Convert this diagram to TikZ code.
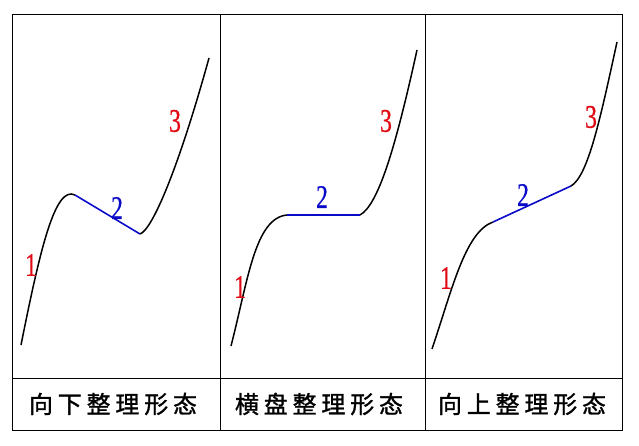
\documentclass[tikz,border=0pt]{standalone}
\usepackage{fontspec}
\usepackage{graphicx}
\setmainfont{Liberation Serif}
\newfontfamily\digfont[FakeBold=0.6]{Liberation Serif}
\newfontfamily\cjk[FakeBold=1.2]{Noto Sans CJK SC}
\definecolor{lblred}{RGB}{225,10,20}
\definecolor{lblblue}{RGB}{10,10,200}
\newcommand{\dig}[1]{\scalebox{0.72}[1]{#1}}
\newcommand{\cjksp}{\hspace{4.8pt}}
\begin{document}
\begin{tikzpicture}[x=1pt,y=-1pt,
  grid/.style={draw=black,line width=1pt},
  curve/.style={draw=black,line width=1.5pt},
  flat/.style={draw=lblblue,line width=1.6pt},
  redlbl/.style={text=lblred,inner sep=0pt,font=\digfont\fontsize{33}{33}\selectfont},
  bluelbl/.style={text=lblblue,inner sep=0pt,font=\digfont\fontsize{33}{33}\selectfont},
  caption/.style={inner sep=0pt,font=\cjk\fontsize{24}{24}\selectfont}]
\useasboundingbox (0,0) rectangle (639,446);
\fill[white] (0,0) rectangle (639,446);
% table
\draw[grid] (12.5,15) rectangle (622,430);
\draw[grid] (12.5,378) -- (622,378);
\draw[grid] (220.5,15) -- (220.5,430);
\draw[grid] (425.5,15) -- (425.5,430);
% panel 1
\coordinate (a0) at (21,345);
\coordinate (a1) at (75,195);
\coordinate (a2) at (140,234);
\coordinate (a3) at (209,58);
\draw[curve] (a0) .. controls (40,250) and (55,185) .. (a1);
\draw[flat] (a1) -- (a2);
\draw[curve] (a2) .. controls (152,230) and (178,170) .. (a3);
\node[redlbl] (p1one) at (31,265) {\dig{1}};
\node[bluelbl] (p1two) at (117,208) {\dig{2}};
\node[redlbl] (p1three) at (175,121) {\dig{3}};
% panel 2
\coordinate (b0) at (231,346);
\coordinate (b1) at (287,215);
\coordinate (b2) at (360,215);
\coordinate (b3) at (417,50);
\draw[curve] (b0) .. controls (248,280) and (255,218) .. (b1);
\draw[flat] (b1) -- (b2);
\draw[curve] (b2) .. controls (378,205) and (395,150) .. (b3);
\node[redlbl] (p2one) at (240,287) {\dig{1}};
\node[bluelbl] (p2two) at (322,197) {\dig{2}};
\node[redlbl] (p2three) at (386,121) {\dig{3}};
% panel 3
\coordinate (c0) at (432,349);
\coordinate (c1) at (493,222);
\coordinate (c2) at (571,186);
\coordinate (c3) at (617,42);
\draw[curve] (c0) .. controls (452,290) and (465,232) .. (c1);
\draw[flat] (c1) -- (c2);
\draw[curve] (c2) .. controls (588,176) and (600,120) .. (c3);
\node[redlbl] (p3one) at (446,278) {\dig{1}};
\node[bluelbl] (p3two) at (523,195) {\dig{2}};
\node[redlbl] (p3three) at (591,117) {\dig{3}};
% captions
\node[caption] (cap1) at (113,404) {向\cjksp 下\cjksp 整\cjksp 理\cjksp 形\cjksp 态};
\node[caption] (cap2) at (319,404) {横\cjksp 盘\cjksp 整\cjksp 理\cjksp 形\cjksp 态};
\node[caption] (cap3) at (522,404) {向\cjksp 上\cjksp 整\cjksp 理\cjksp 形\cjksp 态};
\end{tikzpicture}
\end{document}
